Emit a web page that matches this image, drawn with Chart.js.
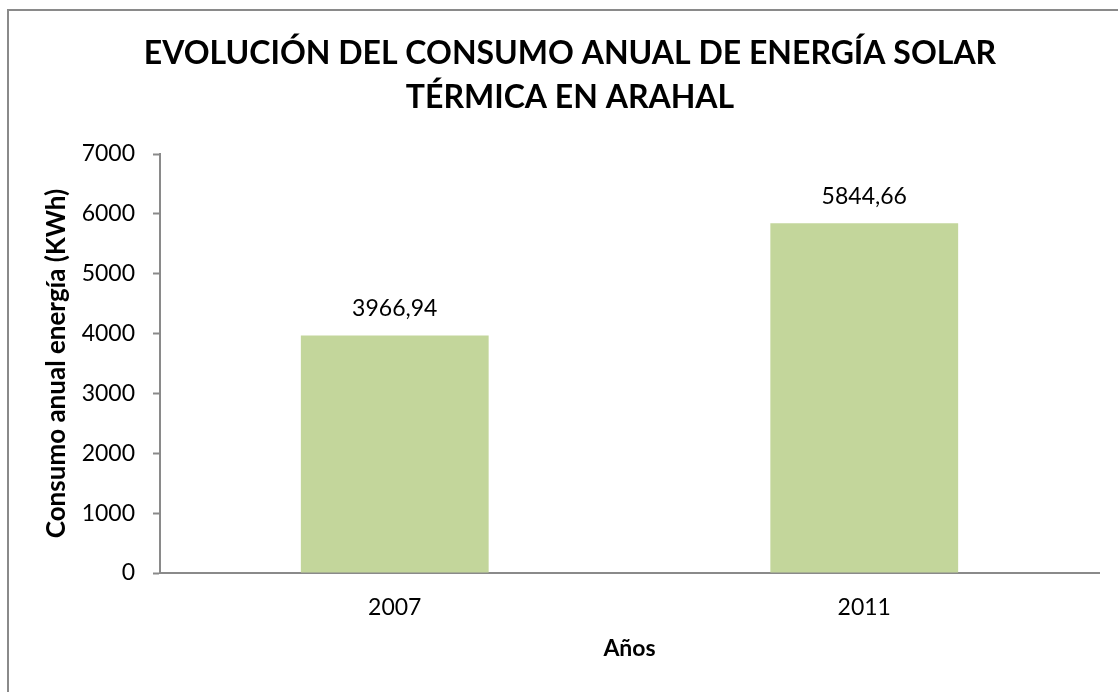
<!DOCTYPE html>
<html>
<head>
<meta charset="utf-8">
<script src="https://cdn.jsdelivr.net/npm/chart.js@4.4.0/dist/chart.umd.min.js"></script>
<style>
  html, body { margin: 0; padding: 0; background: #fff; overflow: hidden; }
  #wrap { position: relative; width: 1118px; height: 692px; }
  #frame { position: absolute; left: 7px; top: 9px; width: 1200px; height: 800px; border: 2px solid #8a8a8a; }
  #chart { position: absolute; left: 0; top: 0; }
</style>
</head>
<body>
<div id="wrap">
  <div id="frame"></div>
  <canvas id="chart" width="1118" height="692"></canvas>
</div>
<script>
// datos del grafico
const years = ['2007', '2011'];
const consumo = [3966.94, 5844.66];
const yTicks = [0, 1000, 2000, 3000, 4000, 5000, 6000, 7000];

const FONT = 'Lato, "Open Sans", sans-serif';
const AXIS_COLOR = '#8a8a8a';

// etiquetas de valor encima de cada barra (formato con coma decimal)
const valueLabels = {
  id: 'valueLabels',
  afterDatasetsDraw(chart) {
    const ctx = chart.ctx;
    const meta = chart.getDatasetMeta(0);
    ctx.save();
    ctx.font = '23px ' + FONT;
    ctx.fillStyle = '#000';
    ctx.textAlign = 'center';
    ctx.textBaseline = 'middle';
    meta.data.forEach(function(bar, i) {
      const txt = consumo[i].toFixed(2).replace('.', ',');
      ctx.fillText(txt, bar.x, bar.y - 27);
    });
    ctx.restore();
  }
};

const canvas = document.getElementById('chart');

const chart = new Chart(canvas, {
  type: 'bar',
  data: {
    labels: years,
    datasets: [{
      label: 'Consumo anual',
      data: consumo,
      backgroundColor: '#C3D69B',
      borderWidth: 0,
      barPercentage: 0.4,
      categoryPercentage: 1.0
    }]
  },
  options: {
    responsive: false,
    animation: false,
    devicePixelRatio: 1,
    layout: { padding: { left: 41, right: 19, top: 0, bottom: 0 } },
    plugins: {
      legend: { display: false },
      tooltip: { enabled: false },
      title: {
        display: true,
        text: ['EVOLUCIÓN DEL CONSUMO ANUAL DE ENERGÍA SOLAR', 'TÉRMICA EN ARAHAL'],
        color: '#000',
        font: { family: FONT, size: 32, weight: 'bold', lineHeight: 1.36 },
        padding: { top: 32, bottom: 35 }
      }
    },
    scales: {
      x: {
        grid: { display: false, drawTicks: false },
        border: { display: true, color: AXIS_COLOR, width: 2 },
        ticks: { color: '#000', font: { family: FONT, size: 23 }, padding: 21 },
        title: {
          display: true,
          text: 'Años',
          color: '#000',
          font: { family: FONT, size: 23, weight: 'bold' },
          padding: { top: 0, bottom: 30 }
        },
        afterFit: function(scale) { scale.height = 119; }
      },
      y: {
        min: 0,
        max: 7000,
        grid: { drawOnChartArea: false, drawTicks: true, tickLength: 7, tickColor: AXIS_COLOR, tickWidth: 2 },
        border: { display: true, color: AXIS_COLOR, width: 2 },
        afterBuildTicks: function(scale) {
          scale.ticks = yTicks.map(function(v) { return { value: v }; });
        },
        ticks: {
          color: '#000',
          font: { family: FONT, size: 23 },
          padding: 18,
          callback: function(v) { return String(v); }
        },
        title: {
          display: true,
          text: 'Consumo anual energía (KWh)',
          color: '#000',
          font: { family: FONT, size: 26, weight: 'bold' },
          padding: { top: 0, bottom: 0 }
        },
        afterFit: function(scale) { scale.width = 119; }
      }
    }
  },
  plugins: [valueLabels]
});
</script>
</body>
</html>
